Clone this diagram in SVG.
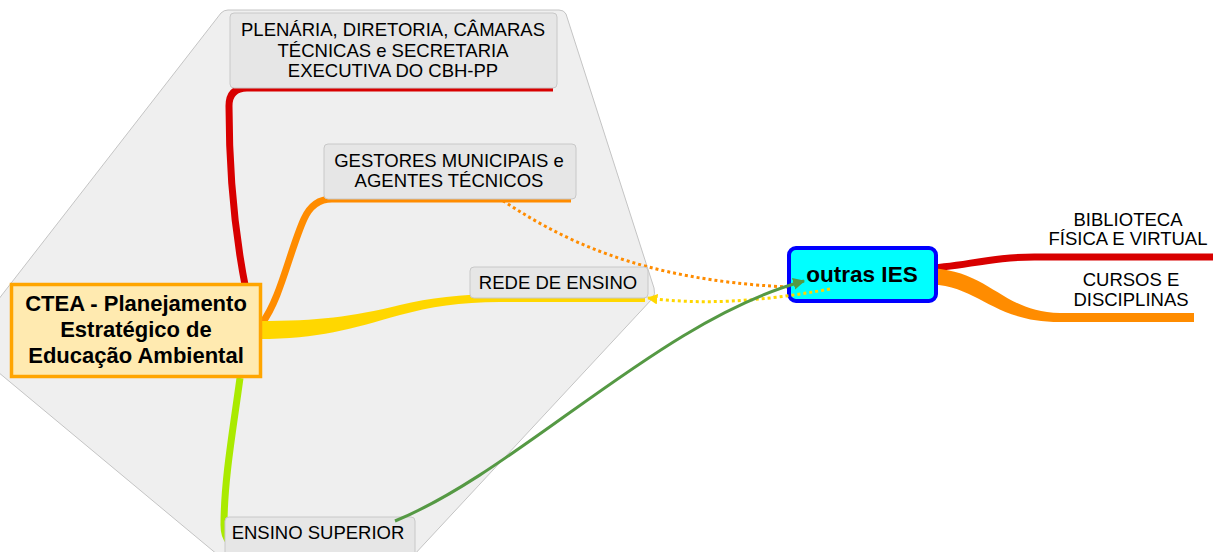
<svg xmlns="http://www.w3.org/2000/svg" width="1219" height="552" viewBox="0 0 1219 552">
<style>
.t{font-family:"Liberation Sans",Arial,sans-serif;font-size:18.5px;fill:#000;text-anchor:middle}
.b{font-weight:bold}
.gnode{fill:#e6e6e6;stroke:#c8c8c8;stroke-width:1}
.br{fill:none;stroke-linecap:butt;stroke-linejoin:round}
.dot{fill:none;stroke-width:3;stroke-dasharray:3 3}
</style>
<defs>
<marker id="ag" viewBox="0 0 10 10" refX="9" refY="5" markerWidth="4" markerHeight="4" orient="auto"><path d="M0,0 L10,5 L0,10 z" fill="#559944"/></marker>
<marker id="ay" viewBox="0 0 10 10" refX="1" refY="5" markerWidth="3.5" markerHeight="3.5" orient="auto"><path d="M10,0 L0,5 L10,10 z" fill="#ffd700"/></marker>
</defs>
<g id="boundary">
<path d="M -2 300 L 221 13 Q 224 10 228 10 L 559 10 Q 564 10 566 14 L 654 288 Q 656 294 652 299 L 400 570 L 236 570 L -2 372 Z" fill="#efefef" stroke="#c4c4c4" stroke-width="1"/>
</g>
<g id="connectors">
<path class="br" d="M 246 290 C 236 240 229 180 229 106 Q 229 88 247 88 L 553 88" stroke="#d80000" stroke-width="7"/>
<path class="dot" d="M 493 194 C 560 240 640 280 788 287" stroke="#ff8c00"/>
<path class="br" d="M 262 323 C 280 300 290 250 304 219 Q 313 199 332 199 L 571 199" stroke="#ff8c00" stroke-width="7"/>
<path d="M 258 321 C 320 321 350 317 400 305 C 430 298 460 294 500 294 L 645 293 L 645 302 L 500 302 C 460 302 430 307 400 315 C 350 329 320 339 258 339 Z" fill="#ffd700"/>
<path class="br" d="M 240 378 C 233 430 224 480 224 525 Q 224 547 245 547 L 413 547" stroke="#aaea00" stroke-width="7"/>
<path d="M 925 268 C 960 268 990 256 1040 257 L 1213 257" fill="none" stroke="#d80000" stroke-width="7"/>
<path d="M 924 268 C 990 268 1000 312 1060 313 L 1194 313 L 1194 322 L 1060 322 C 990 322 980 284 924 284 Z" fill="#ff8c00"/>
</g>
<g id="n-plenaria">
<rect class="gnode" x="230" y="13" width="327" height="75" rx="4"/>
<text class="t" x="393" y="36">PLENÁRIA, DIRETORIA, CÂMARAS</text>
<text class="t" x="393" y="57">TÉCNICAS e SECRETARIA</text>
<text class="t" x="393" y="77">EXECUTIVA DO CBH-PP</text>
</g>
<g id="n-gestores">
<rect class="gnode" x="324" y="144" width="252" height="55" rx="4"/>
<text class="t" x="449" y="167">GESTORES MUNICIPAIS e</text>
<text class="t" x="449" y="187">AGENTES TÉCNICOS</text>
</g>
<g id="n-rede">
<rect class="gnode" x="470" y="267" width="178" height="31" rx="4"/>
<text class="t" x="558" y="289">REDE DE ENSINO</text>
</g>
<g id="n-superior">
<rect class="gnode" x="225" y="517" width="190" height="40" rx="4"/>
<text class="t" x="318" y="539">ENSINO SUPERIOR</text>
</g>
<g id="n-ctea">
<rect x="11.5" y="284.5" width="249" height="92" fill="#ffeab0" stroke="#ffa500" stroke-width="3.5"/>
<text class="t b" style="font-size:22px" x="136" y="311">CTEA - Planejamento</text>
<text class="t b" style="font-size:22px" x="136" y="337">Estratégico de</text>
<text class="t b" style="font-size:22px" x="136" y="363">Educação Ambiental</text>
</g>
<g id="n-outras">
<rect x="789" y="248" width="147" height="53" rx="7" fill="#00ffff" stroke="#0000ff" stroke-width="4"/>
<text class="t b" style="font-size:22.5px" x="862" y="282">outras IES</text>
</g>
<g id="n-biblioteca">
<text class="t" x="1128" y="226">BIBLIOTECA</text>
<text class="t" x="1128" y="245">FÍSICA E VIRTUAL</text>
</g>
<g id="n-cursos">
<text class="t" x="1131" y="286">CURSOS E</text>
<text class="t" x="1131" y="306">DISCIPLINAS</text>
</g>
<g id="crosslinks">
<path class="dot" d="M 648 298 C 700 305 760 302 830 289" stroke="#ffd700" marker-start="url(#ay)"/>
<path d="M 395 521 C 520 470 660 320 804 281" fill="none" stroke="#559944" stroke-width="3" marker-end="url(#ag)"/>
</g>
</svg>
